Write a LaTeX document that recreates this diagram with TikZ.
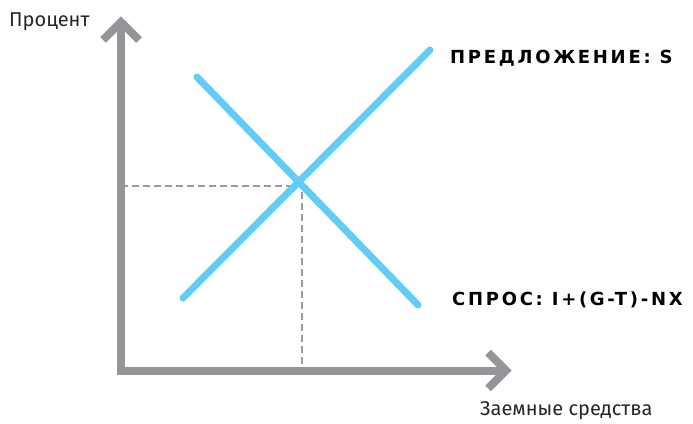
\documentclass[tikz,border=0pt]{standalone}
\usepackage{fontspec}
\setmainfont{Fira Sans}
\newfontfamily\handfont[LetterSpace=15]{DejaVu Sans}
\definecolor{axisgray}{HTML}{939598}
\definecolor{guidegray}{HTML}{9A9A9A}
\definecolor{curveblue}{HTML}{62CDF4}
\begin{document}
\begin{tikzpicture}[x=1pt,y=-1pt,
  axis/.style={draw=axisgray,line width=8pt,line join=miter,line cap=butt},
  guide/.style={draw=guidegray,line width=1.8pt,dash pattern=on 7pt off 4pt},
  curve/.style={draw=curveblue,line width=7pt,line cap=round},
  curvelbl/.style={font=\handfont\bfseries\fontsize{18}{18}\selectfont,text=black,anchor=west,inner sep=0pt},
  axislbl/.style={font=\fontsize{20}{24}\selectfont,text=black!85,inner sep=0pt}]
\useasboundingbox (0,0) rectangle (693,423);
\coordinate (O) at (121,370.5);
\coordinate (Ytip) at (121,22);
\coordinate (Xtip) at (506,370.5);
\coordinate (E) at (302,186);
\coordinate (S1) at (183,298);
\coordinate (S2) at (430,50);
\coordinate (D1) at (197,77);
\coordinate (D2) at (418,305);
% guide lines
\draw[guide] (O|-E) -- (E) -- (E|-O);
% axes
\draw[axis] (Ytip) -- (O) -- (Xtip);
\draw[axis] ([shift={(-18,18)}]Ytip) -- (Ytip) -- ([shift={(18,18)}]Ytip);
\draw[axis] ([shift={(-18,-18)}]Xtip) -- (Xtip) -- ([shift={(-18,18)}]Xtip);
% curves
\draw[curve] (S1) -- (S2);
\draw[curve] (D1) -- (D2);
% labels
\node[curvelbl] (suplbl) at (450,58) {ПРЕДЛОЖЕНИЕ: S};
\node[curvelbl] (demlbl) at (452,300) {СПРОС: I+(G-T)-NX};
\node[axislbl,anchor=west] (ylbl) at (9,22) {Процент};
\node[axislbl,anchor=west] (xlbl) at (480,411) {Заемные средства};
\end{tikzpicture}
\end{document}
